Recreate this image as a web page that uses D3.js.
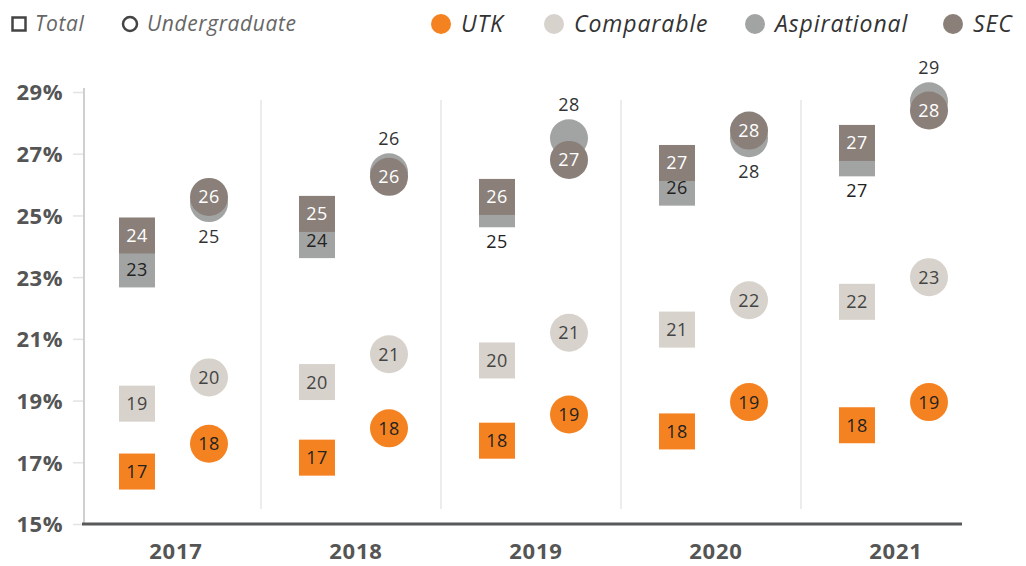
<!DOCTYPE html>
<html>
<head>
<meta charset="utf-8">
<script src="https://cdn.jsdelivr.net/npm/d3@7"></script>
<style>
  body { margin: 0; background: #fff; }
  svg, svg text { font-family: "Open Sans", sans-serif; }
</style>
</head>
<body>
<svg id="chart" width="1026" height="566"></svg>
<script>
var years = ["2017", "2018", "2019", "2020", "2021"];
var yTicks = [15, 17, 19, 21, 23, 25, 27, 29];

// Total (squares)
var utkTotal = [16.7, 17.15, 17.7, 18.0, 18.2];
var compTotal = [18.9, 19.6, 20.3, 21.3, 22.2];
var aspTotal = [23.25, 24.2, 25.2, 25.9, 26.85];
var secTotal = [24.35, 25.05, 25.6, 26.7, 27.35];

// Undergraduate (circles)
var utkUg = [17.6, 18.1, 18.55, 18.95, 18.95];
var compUg = [19.75, 20.5, 21.2, 22.25, 23.0];
var aspUg = [25.4, 26.4, 27.5, 27.5, 28.7];
var secUg = [25.6, 26.25, 26.8, 27.75, 28.4];

var utkColor = "#f58220",
    compColor = "#d7d2cb",
    aspColor = "#a2a4a3",
    secColor = "#8a7f79";

var svg = d3.select("#chart");

var xScale = d3.scaleBand().domain(years).range([81, 981]);
var yScale = d3.scaleLinear().domain([15, 29]).range([524, 92]);

var sqOff = -34, cirOff = 38, sq = 36, rad = 19;

// separators between years
svg.selectAll(".sep")
    .data(years.slice(1))
    .enter()
    .append("line")
    .attr("x1", d => xScale(d))
    .attr("x2", d => xScale(d))
    .attr("y1", 100)
    .attr("y2", 509)
    .attr("stroke", "#d9d9d9")
    .attr("stroke-width", 1);

// y axis
var yAxis = d3.axisLeft(yScale)
    .tickValues(yTicks)
    .tickSize(11)
    .tickPadding(10)
    .tickFormat(d => d + "%");

var yG = svg.append("g")
    .attr("transform", "translate(84,0)")
    .call(yAxis)
    .attr("font-family", null)
    .attr("font-size", null);
yG.select(".domain").remove();
yG.selectAll(".tick line").attr("stroke", "#e3e3e3").attr("stroke-width", 1.5);
yG.selectAll(".tick text")
    .attr("fill", "#555")
    .style("font-size", "22px")
    .style("font-weight", "bold")
    .style("letter-spacing", "0.5px")
    .attr("x", -21)
    .attr("dy", "0.36em");

svg.append("line")
    .attr("x1", 84).attr("x2", 84)
    .attr("y1", 88).attr("y2", 524)
    .attr("stroke", "#cfcfcf")
    .attr("stroke-width", 2);

// x axis
var xAxis = d3.axisBottom(xScale).tickSize(0).tickPadding(19);
var xG = svg.append("g")
    .attr("transform", "translate(0,524)")
    .call(xAxis)
    .attr("font-family", null)
    .attr("font-size", null);
xG.select(".domain").remove();
xG.selectAll(".tick text")
    .attr("fill", "#555")
    .style("font-size", "22px")
    .style("font-weight", "bold")
    .style("letter-spacing", "0.8px")
    .attr("dx", 5);

svg.append("line")
    .attr("x1", 82).attr("x2", 962)
    .attr("y1", 524).attr("y2", 524)
    .attr("stroke", "#58595b")
    .attr("stroke-width", 3);

// marks
function drawSquares(vals, color) {
    var g = svg.append("g");
    g.selectAll("rect")
        .data(vals)
        .enter()
        .append("rect")
        .attr("x", (d, i) => xScale(years[i]) + xScale.bandwidth() / 2 + sqOff - sq / 2)
        .attr("y", d => yScale(d) - sq / 2)
        .attr("width", sq)
        .attr("height", sq)
        .attr("fill", color);
    return g;
}

function drawCircles(vals, color) {
    var g = svg.append("g");
    g.selectAll("circle")
        .data(vals)
        .enter()
        .append("circle")
        .attr("cx", (d, i) => xScale(years[i]) + xScale.bandwidth() / 2 + cirOff)
        .attr("cy", d => yScale(d))
        .attr("r", rad)
        .attr("fill", color);
    return g;
}

function drawLabels(vals, off, color, yShift) {
    svg.append("g")
        .selectAll("text")
        .data(vals)
        .enter()
        .append("text")
        .attr("x", (d, i) => xScale(years[i]) + xScale.bandwidth() / 2 + off)
        .attr("y", (d, i) => yScale(d) + (yShift ? yShift(d, i) : 0))
        .attr("dy", "0.36em")
        .attr("text-anchor", "middle")
        .attr("fill", color)
        .style("font-size", "18px")
        .style("letter-spacing", "0.5px")
        .text(d => Math.round(d));
}

// aspirational + SEC (SEC on top)
drawSquares(aspTotal, aspColor);
drawSquares(secTotal, secColor);
drawCircles(aspUg, aspColor);
drawCircles(secUg, secColor);

function aspShift(vals, secVals, limit, size) {
    return function (d, i) {
        var gap = yScale(secVals[i]) - yScale(d);
        if (Math.abs(gap) >= limit) return 0;
        return gap > 0 ? -(size / 2 + 15) : (size / 2 + 14);
    };
}

drawLabels(aspTotal, sqOff, "#222", aspShift(aspTotal, secTotal, 20, sq));
drawLabels(aspUg, cirOff, "#333", aspShift(aspUg, secUg, 30, rad * 2));
drawLabels(secTotal, sqOff, "#fff");
drawLabels(secUg, cirOff, "#fff");

// comparable
drawSquares(compTotal, compColor);
drawCircles(compUg, compColor);
drawLabels(compTotal, sqOff, "#444");
drawLabels(compUg, cirOff, "#444");

// UTK
drawSquares(utkTotal, utkColor);
drawCircles(utkUg, utkColor);
drawLabels(utkTotal, sqOff, "#222");
drawLabels(utkUg, cirOff, "#222");

// legend
var legend = svg.append("g");
legend.append("rect")
    .attr("x", 12.5).attr("y", 17.5)
    .attr("width", 13).attr("height", 13)
    .attr("fill", "none")
    .attr("stroke", "#444")
    .attr("stroke-width", 2.5);
legend.append("text")
    .attr("x", 35).attr("y", 31)
    .attr("fill", "#666")
    .style("font-size", "21px")
    .style("font-style", "italic")
    .style("letter-spacing", "0.6px")
    .text("Total");
legend.append("circle")
    .attr("cx", 130).attr("cy", 24)
    .attr("r", 7)
    .attr("fill", "none")
    .attr("stroke", "#444")
    .attr("stroke-width", 2.5);
legend.append("text")
    .attr("x", 147).attr("y", 31)
    .attr("fill", "#666")
    .style("font-size", "21px")
    .style("font-style", "italic")
    .style("letter-spacing", "0.6px")
    .text("Undergraduate");

var groups = ["UTK", "Comparable", "Aspirational", "SEC"];
var groupColors = [utkColor, compColor, aspColor, secColor];
var groupX = [441, 554, 755, 953];

groups.forEach(function (name, i) {
    legend.append("circle")
        .attr("cx", groupX[i]).attr("cy", 24)
        .attr("r", 10)
        .attr("fill", groupColors[i]);
    legend.append("text")
        .attr("x", groupX[i] + 20).attr("y", 32)
        .attr("fill", "#333")
        .style("font-size", "23px")
        .style("font-style", "italic")
        .style("letter-spacing", "0.9px")
        .text(name);
});
</script>
</body>
</html>
